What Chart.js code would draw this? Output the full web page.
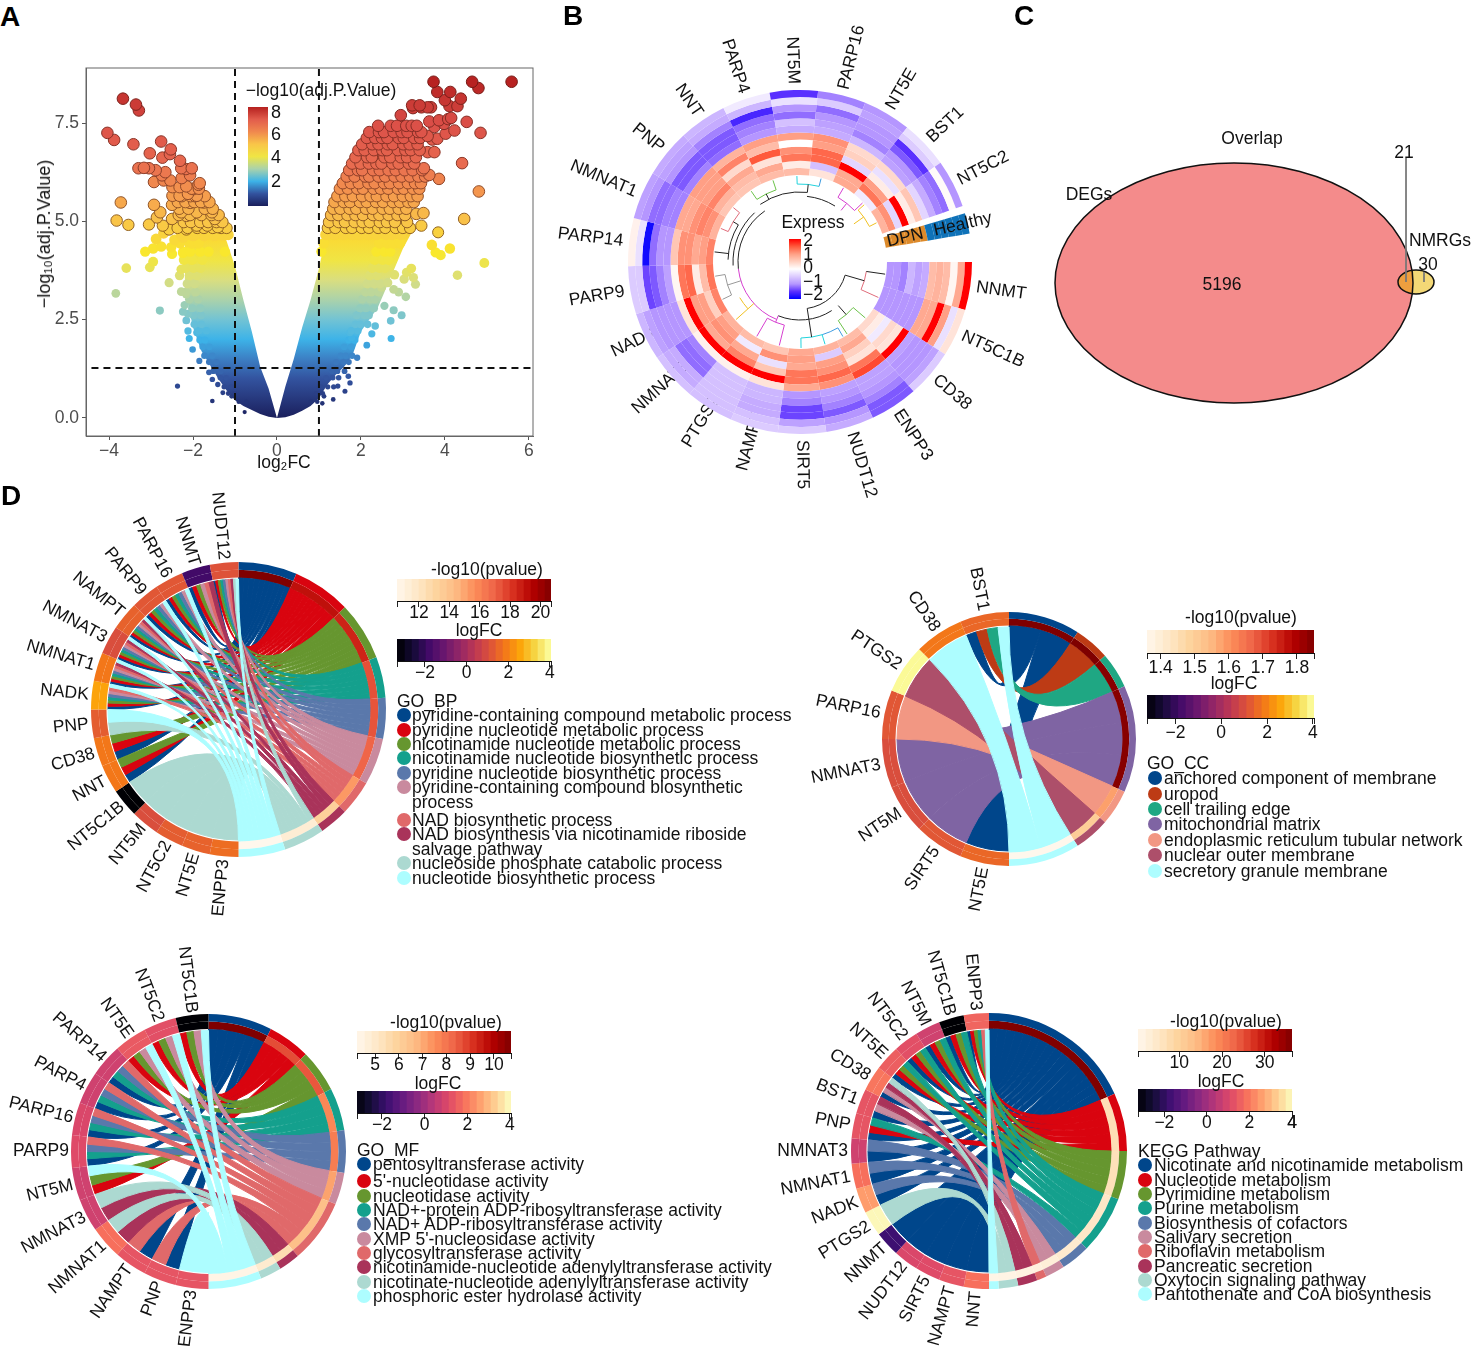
<!DOCTYPE html>
<html>
<head>
<meta charset="utf-8">
<title>Nicotinamide metabolism figure</title>
<script src="https://cdn.jsdelivr.net/npm/chart.js@4/dist/chart.umd.min.js"></script>
<style>
  html, body { margin: 0; background: #fff; }
  body { position: relative; width: 1476px; height: 1354px; overflow: hidden; font-family: "Liberation Sans", Arial, sans-serif; color: #111; }
  canvas { position: absolute; }
  .t { position: absolute; white-space: nowrap; line-height: 1; font-size: 17.5px; transform: translate(-50%, -44%); z-index: 5; }
  .l { transform: translate(0, -44%); }
  .letter { font-weight: bold; font-size: 28px; color: #000; }
  .dot { position: absolute; width: 14px; height: 14px; border-radius: 50%; transform: translate(-50%, -50%); z-index: 4; }
  .bar { position: absolute; z-index: 4; }
</style>
</head>
<body>
<script>
const FONT = '"Liberation Sans", Arial, sans-serif';

// ---- panel A: [log2FC, -log10 p]
const volcanoRight = [[3.73,8.55],[3.82,8.29],[4.65,8.55],[4.8,8.39],[5.59,8.55],[4.13,8.29],[4.38,8.12],[4,8.08],[4.11,7.93],[4.3,7.93],[3.22,7.95],[3.24,7.88],[3.4,7.95],[3.44,7.9],[3.67,7.9],[3.59,7.9],[2.95,7.7],[3.63,7.54],[3.86,7.57],[4.15,7.63],[4.08,7.6],[3.98,7.48],[3.75,7.4],[4.52,7.53],[4.23,7.31],[4.02,7.23],[4.85,7.25],[3.59,7.17],[3.82,7.1],[3.7,7.08],[3.59,6.76],[3.75,6.76],[4.41,6.48],[3.5,6.35],[3.63,6.18],[3.86,6.08],[4.81,5.76],[4.46,5.06],[3.44,4.89],[3.49,5.21],[3.32,5.19],[3.84,4.72],[3.69,4.4],[3.78,4.21],[3.9,4.14],[4.12,4.31],[4.94,3.94],[4.3,3.63],[3.2,3.8],[3.09,3.7],[3.03,3.53],[3.25,3.57],[3.3,3.4],[2.8,3.64],[2.64,3.44],[2.49,3.32],[2.78,3.27],[2.9,3.2],[3.07,3.08],[2.56,2.85],[2.78,2.74],[2.97,2.61],[2.71,2.47],[2.34,2.34],[2.26,2.14],[2.72,2.02],[2.14,1.85],[1.91,1.53],[1.78,2.04],[1.84,1.98],[1.74,2.17],[1.7,1.06],[1.74,0.89],[1.62,0.68],[1.45,0.81],[1.34,0.47],[1.12,0.55],[1.08,0.37]];
const volcanoLeft = [[-3.67,8.12],[-3.36,7.97],[-3.29,7.82],[-4.04,7.25],[-3.88,7.07],[-3.42,6.96],[-2.76,7.03],[-3.03,6.73],[-2.53,6.83],[-2.55,6.71],[-2.73,6.62],[-2.31,6.54],[-3.3,6.35],[-3.17,6.36],[-3.05,6.35],[-2.89,6.3],[-2.28,6.35],[-2.17,6.33],[-2.03,6.35],[-2.66,6.25],[-2.74,6.17],[-2.27,6.1],[-2.07,6.17],[-2.93,6],[-2.7,6.04],[-2.54,6.04],[-1.87,5.93],[-2.49,5.87],[-2.32,5.87],[-2.16,5.89],[-1.99,5.82],[-3.72,5.48],[-2.93,5.42],[-2.49,5.65],[-2.32,5.65],[-2.12,5.7],[-1.91,5.65],[-1.74,5.48],[-2.5,5.42],[-2.28,5.23],[-2.07,5.47],[-2.78,5.23],[-1.55,5.23],[-2.86,5.1],[-2.5,5.06],[-2.16,5.14],[-1.91,5.23],[-1.48,5.06],[-3.82,5.02],[-3.54,4.91],[-3.05,4.92],[-2.72,4.89],[-2.57,4.79],[-2.7,4.7],[-2.16,4.79],[-1.91,4.89],[-1.66,4.89],[-1.41,4.85],[-2.88,4.55],[-2.44,4.53],[-2.24,4.59],[-1.99,4.63],[-1.74,4.63],[-1.49,4.63],[-1.29,4.63],[-2.76,4.36],[-2.95,4.31],[-2.52,4.34],[-3.14,4.23],[-2.5,4.17],[-2.24,4.2],[-2.95,3.97],[-3.03,3.83],[-3.59,3.81],[-2.28,3.78],[-3.84,3.17],[-2.57,3.44],[-2.28,3.21],[-2.16,3.15],[-2.2,2.87],[-2.24,2.7],[-2.79,2.73],[-2.12,2.65],[-2.16,2.48],[-2.12,2.21],[-1.91,2.17],[-2.09,2.02],[-2.01,1.74],[-1.85,1.45],[-1.62,1.16],[-1.54,0.98],[-1.41,0.85],[-2.37,0.81],[-1.54,0.43],[-1.29,0.64],[-1.08,0.55],[-0.77,0.15]];
// packed part of the two wings, band by band
const packedY = [7.43,7.27,7.12,6.96,6.81,6.63,6.47,6.3,6.14,5.97,5.83,5.64,5.49,5.32,5.16,4.98,4.83,4.66,4.44,4.23,4.02,3.81,3.62,3.41,3.2,3.02,2.79,2.61,2.38,2.22,1.98,1.81,1.58,1.42,1.19,1.02,0.79,0.62,0.41];
const packedX = [
  [2.41,2.71,2.86,3.08,3.21,3.33],
  [2.2,2.43,2.55,2.78,2.97,3.11,3.36,3.44],
  [2.14,2.34,2.5,2.63,2.9,3.02,3.27,3.41],
  [2.03,2.27,2.42,2.64,2.76,3.01,3.16,3.35],
  [1.94,2.09,2.31,2.51,2.62,2.88,3.06,3.19,3.4],
  [1.87,2.15,2.26,2.56,2.7,2.95,3.1,3.31],
  [1.79,1.99,2.19,2.37,2.49,2.75,2.9,3.14,3.27],
  [1.72,1.93,2.03,2.29,2.45,2.66,2.83,3.04,3.23,3.46],
  [1.66,1.85,2.1,2.2,2.42,2.58,2.8,2.97,3.17,3.37,3.53],
  [1.57,1.76,1.95,2.18,2.33,2.55,2.69,2.91,3.12,3.29,3.43,-1.84],
  [1.5,1.69,1.91,2.05,2.3,2.47,2.65,2.88,3.02,3.24,3.39,-2.03,-1.86],
  [1.44,1.63,1.81,2.03,2.23,2.38,2.61,2.79,3,3.19,3.35,-2.27,-2.06,-1.95,-1.72],
  [1.37,1.59,1.74,1.98,2.14,2.36,2.53,2.76,2.93,3.13,3.26,-2.36,-2.18,-1.97,-1.81,-1.61],
  [1.34,1.51,1.73,1.89,2.12,2.28,2.52,2.69,2.9,3.08,-2.33,-2.11,-1.72,-1.53],
  [1.29,1.46,1.68,1.87,2.05,2.29,2.44,2.66,2.87,3.05,-2.34,-2.07,-1.8,-1.56,-1.39],
  [1.24,1.47,1.62,1.85,2.04,2.21,2.45,2.62,2.81,3.1,-2.22,-2.05,-1.83,-1.64,-1.44,-1.3],
  [1.21,1.39,1.64,1.79,2.02,2.19,2.41,2.58,2.83,3,3.17,-2.37,-2.13,-1.9,-1.74,-1.53,-1.33,-1.2],
  [1.16,1.37,1.58,1.81,1.96,2.17,2.38,2.6,2.75,2.95,-2.28,-2.07,-1.94,-1.7,-1.5,-1.26,-1.16],
  [1.11,2.44,2.63,2.77,2.93,-2.31,-2.03,-1.87],
  [1.06,2.37,2.57,2.7,-2.23,-2.07,-1.83,-1.63,-1.24],
  [2.33,2.52,2.66,-2.22,-2.02,-1.78],
  [2.27,2.44,2.57,-2.18,-1.99,-1.82],
  [2.21,2.39,-2.32,-2.08,-1.91],
  [2.15,2.32,2.46,-2.14,-1.96],
  [2.11,2.25,2.42,-2.17,-1.94],
  [2.03,2.22,2.33,-2.09,-1.88],
  [1.98,2.12,2.31,-2.02,-1.83],
  [1.9,2.09,2.19,-1.99,-1.81],
  [1.87,1.98,2.16,-1.97,-1.8],
  [1.77,1.93,-1.86,-1.68],
  [1.71,1.86,-1.84,-1.72],
  [1.6,1.77,-1.77,-1.61],
  [1.52,1.64,1.79,-1.73,-1.54],
  [1.41,1.59,1.71,-1.62,-1.44],
  [1.31,1.44,1.61,-1.52,-1.34],
  [1.17,1.33,1.47,-1.35,-1.21],
  [1.04,1.21,1.35,-1.26,-1.09],
  [0.94,1.09,-1.16,-1.01],
  [0.81,0.96,-0.91,-0.73]
];
// edges of the solid core of the cloud
const coreRightX = [0,0.2,0.4,0.6,0.8,1,1.2,1.4,1.6,1.8,2,2.2,2.4,2.6,2.8,3,3.2];
const coreRightTop = [0,0.8,1.5,2.3,3,3.8,4.8,5.5,5.85,6.1,6.55,7,7.3,7.45,7.55,7.6,7.4];
const coreRightBottom = [0,0.02,0.08,0.18,0.3,0.5,0.85,1.1,1.3,1.6,2.2,2.5,2.8,3.3,3.8,4.3,4.7];
const coreLeftX = [-2.2,-2,-1.8,-1.6,-1.4,-1.2,-1,-0.8,-0.6,-0.4,-0.2,0];
const coreLeftTop = [5.7,5.9,5.6,5.3,5,4.5,3.85,3,2.2,1.3,0.75,0];
const coreLeftBottom = [3.3,2.3,1.7,1.35,1,0.7,0.45,0.3,0.2,0.1,0.03,0];
const volcanoXTicks = [-4,-2,0,2,4,6];
const volcanoYTicks = [0,2.5,5,7.5];
const cutX = [-1,1];
const cutY = 1.27;

// ---- panel B, rows run from the outer ring to the inner ring
const heatGenes = ['NNMT','NT5C1B','CD38','ENPP3','NUDT12','SIRT5','NAMPT','PTGS2','NMNAT3','NADK','PARP9','PARP14','NMNAT1','PNP','NNT','PARP4','NT5M','PARP16','NT5E','BST1','NT5C2'];
const heatValues = [
  [2,0.9,0.1,0.7,0.8,0.7,-0.8,-0.9,-0.7,-1.1,-1,-1],
  [0.3,-0.3,1,2,0.9,0.9,-1,-1,-1,-1,-1,-1],
  [-0.5,-0.9,-1,-1,-1,-0.9,2,0.3,0.4,-0.2,0.2,0.4],
  [-1.3,-1.3,-1.1,-1,-0.9,-0.9,1.6,1.3,0.3,0.5,0.9,0.7],
  [-0.8,-1,-1.3,-1.1,-1,-0.9,1.1,1.4,1.1,1,-0.5,0.8],
  [-0.5,-0.9,-1.4,-1.4,-1.1,-1,0.9,1.3,1.3,0.9,1,0.9],
  [-0.5,-0.6,-0.8,-0.8,-0.7,-0.7,0.3,2,0.6,-0.3,1.1,0.6],
  [-0.6,-0.6,-0.6,-0.6,-0.6,-0.6,0.15,2,1.2,0.9,-0.2,0.7],
  [-0.6,-0.8,-0.8,-1.2,-1.2,-1.1,0.15,2,0.9,1.1,1,0.8],
  [-0.7,-0.9,-1,-1,-1,-1,0.3,2,1,1,0.5,1.2],
  [-0.5,-0.5,-1.4,-1.3,-1.1,-0.9,0.1,1.3,1.4,0.2,0.7,1.3],
  [0.15,-0.3,-1.9,-1.2,-1,-1,0.6,1.1,1.1,0.9,1,1.2],
  [-0.9,-1,-1.2,-1.2,-1.1,-1.1,0.9,0.9,1.1,1.2,1.1,0.8],
  [-0.8,-0.9,-1,-1.3,-1.3,-1.1,1,1,1,1.2,0.8,0.6],
  [-0.7,-0.8,-1.1,-1.3,-1.3,-1.2,0.8,1.2,0.4,0.9,0.7,0.6],
  [-0.2,-0.7,-1.6,-1.2,-1.1,-1,1,0.7,1.5,0.3,0.9,0.7],
  [-1.5,-0.3,-1,-1.2,-0.6,-0.8,1,0,1.1,1.3,0.2,0.7],
  [-1.1,-0.5,-1.2,-1,-0.9,-0.8,1.1,1,1.4,1.4,-0.6,0.3],
  [-1,-0.9,-1,-1,-1.1,-0.7,0.4,0.5,-0.4,2,0.9,0.9],
  [-0.3,-0.5,-1.5,-1.3,-1,-0.9,0.4,-0.3,0.2,1,1.3,-0.2],
  [-1,0.05,-1.2,-1.1,-0.8,-0.4,0.6,0.2,2,-0.4,1.1,0.8]
];
// how far each label reaches in towards the ring; four of them run under it
const heatLabelInset = {NADK:160, NMNAT3:152, PTGS2:159, NAMPT:155};
const dendroArcs = [
  [0.5,1.5,67,'#e06c7a'],[2.5,3.5,70,'#6cc24a'],[3.7,4.5,76,'#3d9be0'],[4.5,5.5,76,'#22d3dc'],
  [1,5,47,'#222'],[3.5,6.9,58,'#222'],[6.4,7.4,65,'#d63fd0'],[6.9,10.7,62,'#d63fd0'],
  [8.5,9.2,70,'#f0c020'],[9.5,10.5,76,'#999'],[10.7,14.5,62,'#222'],[10.9,14,67,'#222'],[11.2,13,72,'#222'],
  [12.5,13.5,78,'#e06c7a'],[14.5,15.5,76,'#6cc24a'],[14.5,17,70,'#222'],[16.5,17.5,78,'#22d3dc'],
  [17,18.6,66,'#222'],[18.5,19.5,75,'#d63fd0'],[19.6,20.5,78,'#f0c020']
];
const dendroStems = [
  [0.5,67,86,'#222'],[1.5,67,86,'#e06c7a'],[1,47,67,'#222'],[2.5,70,86,'#6cc24a'],[3.5,70,86,'#6cc24a'],[3,58,70,'#222'],
  [3.7,76,86,'#3d9be0'],[4.5,76,86,'#22d3dc'],[5.5,76,86,'#22d3dc'],[5,47,58,'#222'],[5,58,76,'#222'],
  [6.4,65,86,'#d63fd0'],[7.4,65,86,'#d63fd0'],[6.9,58,65,'#d63fd0'],[8.5,62,86,'#f0c020'],
  [9.5,76,86,'#999'],[10.5,76,86,'#999'],[10,62,76,'#999'],[11.5,72,86,'#222'],[12.5,78,86,'#e06c7a'],[13.5,78,86,'#e06c7a'],
  [13,72,78,'#222'],[14.5,76,86,'#6cc24a'],[15.5,76,86,'#6cc24a'],[15,70,76,'#222'],[16.5,78,86,'#22d3dc'],[17.5,78,86,'#3d9be0'],
  [17,70,78,'#222'],[18.5,75,86,'#d63fd0'],[19.5,75,86,'#d63fd0'],[19,66,75,'#d63fd0'],[19.6,78,86,'#f0c020'],[20.5,78,86,'#f0c020'],[20,66,78,'#f0c020']
];

// ---- panel C
const vennCx = [194,376], vennCy = [163,162], vennRx = [179,18], vennRy = [120,12];

// ---- panel D: genes run clockwise from the bottom, terms from the top
const termPalette = ['#00468b','#d9040f','#66962f','#14a08d','#5a78ab','#c98a9e','#e0696a','#a9335a','#acd9d1','#adfdff'];

const bpGenes = ['ENPP3','NT5E','NT5C2','NT5M','NT5C1B','NNT','CD38','PNP','NADK','NMNAT1','NMNAT3','NAMPT','PARP9','PARP16','NNMT','NUDT12'];
const bpLogFC = [1.6,1.4,1.3,1,-3.3,1.8,1.8,1.3,2.5,1.8,1,1.4,1.2,1.2,-1.84,1.1];
const bpTerms = ['pyridine-containing compound metabolic process','pyridine nucleotide metabolic process','nicotinamide nucleotide metabolic process','nicotinamide nucleotide biosynthetic process','pyridine nucleotide biosynthetic process','pyridine-containing compound biosynthetic\nprocess','NAD biosynthetic process','NAD biosynthesis via nicotinamide riboside\nsalvage pathway','nucleoside phosphate catabolic process','nucleotide biosynthetic process'];
const bpPvalue = [20.7,19,18.5,17.4,17.3,16.9,15.3,13.3,11.4,10.55];
const bpAll = 'NNT CD38 NADK NMNAT1 NMNAT3 NAMPT PARP9 PARP16 NNMT NUDT12';
const bpMembers = [bpAll, bpAll, bpAll,
  'NADK NMNAT1 NMNAT3 NAMPT PARP9 PARP16 NUDT12',
  'NADK NMNAT1 NMNAT3 NAMPT PARP9 PARP16 NUDT12',
  'NADK NMNAT1 NMNAT3 NAMPT PARP9 PARP16 NNMT NUDT12',
  'NADK NMNAT1 NMNAT3 NAMPT NNMT NUDT12',
  'NMNAT1 NMNAT3 NAMPT NNMT NUDT12',
  'ENPP3 NT5E NT5C2 NT5M NT5C1B PNP NUDT12',
  'PNP NADK NMNAT1 NMNAT3 NAMPT PARP9 PARP16 NUDT12'];

const ccGenes = ['NT5E','SIRT5','NT5M','NMNAT3','PARP16','PTGS2','CD38','BST1'];
const ccLogFC = [1.5,1.2,1,1,1.2,3.9,1.8,1.5];
const ccTerms = ['anchored component of membrane','uropod','cell trailing edge','mitochondrial matrix','endoplasmic reticulum tubular network','nuclear outer membrane','secretory granule membrane'];
const ccColors = ['#00468b','#bd3b15','#1fa783','#7f64a3','#f29783','#ad4f6a','#adfdff'];
const ccPvalue = [1.85,1.85,1.84,1.84,1.58,1.5,1.36];
const ccMembers = ['NT5E BST1','BST1','BST1','SIRT5 NT5M NMNAT3','PARP16','PTGS2','CD38 BST1'];

const mfGenes = ['ENPP3','PNP','NAMPT','NMNAT1','NMNAT3','NT5M','PARP9','PARP16','PARP4','PARP14','NT5E','NT5C2','NT5C1B'];
const mfLogFC = [1.3,1.3,1.3,1.8,0.8,0.8,1.1,1,0.8,0.8,1.4,1.2,-3.3];
const mfTerms = ['pentosyltransferase activity',"5'-nucleotidase activity",'nucleotidase activity','NAD+-protein ADP-ribosyltransferase activity','NAD+ ADP-ribosyltransferase activity',"XMP 5'-nucleosidase activity",'glycosyltransferase activity','nicotinamide-nucleotide adenylyltransferase activity','nicotinate-nucleotide adenylyltransferase activity','phosphoric ester hydrolase activity'];
const mfPvalue = [10.72,8.65,8.5,7.6,7.8,7.1,6.5,5.5,4.9,4.4];
const mfMembers = ['PNP NAMPT PARP9 PARP16 PARP4 PARP14','NT5M NT5E NT5C2 NT5C1B','NT5M NT5E NT5C2 NT5C1B','PARP9 PARP16 PARP4 PARP14','PARP9 PARP16 PARP4 PARP14','NT5E NT5C2 NT5C1B','PNP NAMPT PARP9 PARP16 PARP4 PARP14','NMNAT1 NMNAT3','NMNAT1 NMNAT3','ENPP3 NT5M NT5E NT5C2 NT5C1B'];

const keggGenes = ['NNT','NAMPT','SIRT5','NUDT12','NNMT','PTGS2','NADK','NMNAT1','NMNAT3','PNP','BST1','CD38','NT5E','NT5C2','NT5M','NT5C1B','ENPP3'];
const keggLogFC = [1.8,1.3,1.1,1,-1.8,3.9,2.5,1.8,0.8,1.3,1.3,1.9,1.5,1.2,0.8,-3.3,1.6];
const keggTerms = ['Nicotinate and nicotinamide metabolism','Nucleotide metabolism','Pyrimidine metabolism','Purine metabolism','Biosynthesis of cofactors','Salivary secretion','Riboflavin metabolism','Pancreatic secretion','Oxytocin signaling pathway','Pantothenate and CoA biosynthesis'];
const keggPvalue = [36.3,6.8,6.5,5,4,2.9,2.2,1.8,1.4,1.1];
const keggMembers = ['NNT NAMPT SIRT5 NUDT12 NNMT NADK NMNAT1 NMNAT3 PNP BST1 CD38 NT5E NT5C2 NT5M NT5C1B ENPP3','PNP NT5E NT5C2 NT5M NT5C1B ENPP3','NT5E NT5C2 NT5M NT5C1B ENPP3','PNP NT5E NT5C2 NT5M NT5C1B ENPP3','NADK NMNAT1 NMNAT3','BST1 CD38','ENPP3','BST1 CD38','PTGS2 CD38','ENPP3'];

// ---- colour helpers
const hex = c => [1, 3, 5].map(i => parseInt(c.substr(i, 2), 16));
const toHex = a => '#' + a.map(v => Math.round(Math.max(0, Math.min(255, v))).toString(16).padStart(2, '0')).join('');
const mix = (a, b, t) => { const x = hex(a), y = hex(b); return toHex(x.map((v, i) => v + (y[i] - v) * t)); };
function ramp(stops, t) {
  t = Math.max(0, Math.min(1, t));
  const p = t * (stops.length - 1), i = Math.min(Math.floor(p), stops.length - 2);
  return mix(stops[i], stops[i + 1], p - i);
}
const inferno = ['#000004','#160b39','#420a68','#6a176e','#932667','#bc3754','#dd513a','#f37819','#fca50a','#f6d746','#fcffa4'];
const magma = ['#000004','#140e36','#3b0f70','#641a80','#8c2981','#b73779','#de4968','#f7705c','#fe9f6d','#fecf92','#fcfdbf'];
const orRd = ['#fff7ec','#fee8c8','#fdd49e','#fdbb84','#fc8d59','#ef6548','#d7301f','#b30000','#7f0000'];
const heatStops = ['#0000ff','#5a30ff','#b596ff','#dccbff','#ffffff','#ffd0c0','#ff9f85','#ff5a3c','#ff0000'];
const heatColor = v => ramp(heatStops, (v + 2) / 4);
const volcanoStops = [[0,'#1a1f5c'],[1,'#33539f'],[1.5,'#3c7fc4'],[2,'#3db3e8'],[2.5,'#72c3d4'],[3,'#aad2ab'],[3.5,'#d9de80'],[4.2,'#f9e82c'],[5,'#f9c548'],[5.7,'#f59a4e'],[6.5,'#e8694f'],[7.5,'#db4f48'],[8.6,'#b5201f']];
function volcanoColor(y) {
  for (let i = 1; i < volcanoStops.length; i++) {
    if (y <= volcanoStops[i][0]) {
      const [a, ca] = volcanoStops[i - 1], [b, cb] = volcanoStops[i];
      return mix(ca, cb, (y - a) / (b - a));
    }
  }
  return volcanoStops[volcanoStops.length - 1][1];
}

// ---- page helpers
function text(str, x, y, extra = '', cls = 't') {
  const d = document.createElement('div');
  d.className = cls;
  d.textContent = str;
  d.style.cssText = `left:${x}px;top:${y}px;${extra}`;
  document.body.appendChild(d);
  return d;
}
function box(cls, x, y, w, h, bg) {
  const d = document.createElement('div');
  d.className = cls;
  d.style.cssText = `left:${x}px;top:${y}px;width:${w}px;height:${h}px;background:${bg}`;
  document.body.appendChild(d);
}
function place(x, y, w, h) {
  const c = document.createElement('canvas');
  c.width = w; c.height = h;
  c.style.cssText = `left:${x}px;top:${y}px;width:${w}px;height:${h}px`;
  document.body.appendChild(c);
  return c;
}
const base = { responsive: false, animation: false, events: [], plugins: { legend: { display: false }, tooltip: { enabled: false } } };

text('A', 10, 15, '', 't letter');
text('B', 573, 14, '', 't letter');
text('C', 1024, 14, '', 't letter');
text('D', 11, 494, '', 't letter');

// ---- A: volcano
const volcanoPoints = volcanoRight.concat(volcanoLeft);
packedY.forEach((y, i) => packedX[i].forEach(x => volcanoPoints.push([x, y])));
volcanoPoints.sort((a, b) => a[1] - b[1]);

function coreFill(ctx) {
  const { chart } = ctx, s = chart.scales.y;
  if (!s || !chart.chartArea) return '#888';
  const g = chart.ctx.createLinearGradient(0, s.getPixelForValue(0), 0, s.getPixelForValue(8));
  for (let v = 0; v <= 8; v += 0.5) {
    const dark = v > 4.5 ? Math.min(0.28, (v - 4.5) * 0.14) : 0;
    g.addColorStop(v / 8, mix(volcanoColor(v), '#5a2a10', dark));
  }
  return g;
}
const xy = (xs, ys) => xs.map((x, i) => ({ x, y: ys[i] }));
const guide = { borderColor: '#111', borderWidth: 2, borderDash: [7, 5], pointRadius: 0, fill: false };
new Chart(place(0, 40, 560, 440), {
  type: 'line',
  data: { datasets: [
    { ...guide, data: [{ x: cutX[0], y: -0.46 }, { x: cutX[0], y: 8.9 }] },
    { ...guide, data: [{ x: cutX[1], y: -0.46 }, { x: cutX[1], y: 8.9 }] },
    { ...guide, data: [{ x: -4.42, y: cutY }, { x: 6.1, y: cutY }] },
    { data: volcanoPoints.map(p => ({ x: p[0], y: p[1] })), showLine: false,
      pointRadius: c => c.raw ? Math.min(5.8, 2 + c.raw.y * 0.75) : 3,
      pointBackgroundColor: c => c.raw ? volcanoColor(c.raw.y) : '#888',
      pointBorderColor: c => c.raw ? mix(volcanoColor(c.raw.y), '#401008', 0.55) : '#888',
      pointBorderWidth: c => c.raw && c.raw.y > 4.7 ? 1 : 0 },
    { data: xy(coreRightX, coreRightTop), borderWidth: 0, pointRadius: 0, backgroundColor: coreFill, fill: { target: 5 } },
    { data: xy(coreRightX, coreRightBottom), borderWidth: 0, pointRadius: 0, fill: false },
    { data: xy(coreLeftX, coreLeftTop), borderWidth: 0, pointRadius: 0, backgroundColor: coreFill, fill: { target: 7 } },
    { data: xy(coreLeftX, coreLeftBottom), borderWidth: 0, pointRadius: 0, fill: false }
  ] },
  options: { ...base,
    layout: { padding: { top: 28, right: 27 } },
    scales: {
      x: { type: 'linear', min: -4.55, max: 6.1,
        afterBuildTicks: s => { s.ticks = volcanoXTicks.map(value => ({ value })); },
        afterFit: s => { s.height = 44; s.paddingLeft = 0; s.paddingRight = 0; },
        ticks: { font: { size: 17.5, family: FONT }, color: '#4d4d4d', padding: 1, maxRotation: 0, callback: v => String(v).replace('-', '\u2212') },
        grid: { drawOnChartArea: false, tickLength: 4, color: '#555' }, border: { color: '#666' } },
      y: { type: 'linear', min: -0.46, max: 8.9,
        afterBuildTicks: s => { s.ticks = volcanoYTicks.map(value => ({ value })); },
        afterFit: s => { s.width = 86; },
        ticks: { font: { size: 17.5, family: FONT }, color: '#4d4d4d', padding: 3, callback: v => v.toFixed(1) },
        grid: { drawOnChartArea: false, tickLength: 4, color: '#555' }, border: { color: '#666' } }
    } },
  plugins: [{ id: 'frame', afterDraw(chart) {
    const { left, top, width, height } = chart.chartArea, c = chart.ctx;
    c.strokeStyle = '#666'; c.lineWidth = 1; c.strokeRect(left, top, width, height);
  } }]
});
text('log\u2082FC', 284, 462);
text('\u2212log\u2081\u2080(adj.P.Value)', 44, 234, 'transform:translate(-50%,-50%) rotate(-90deg);font-size:18px');
text('\u2212log10(adj.P.Value)', 321, 90);
box('bar', 248, 107, 20, 99, `linear-gradient(to top,${[0,1,2,3,4,5,6,7,8.6].map(volcanoColor).join(',')})`);
[[8, 111], [6, 133], [4, 156], [2, 180]].forEach(([v, y]) => text(v, 276, y, 'font-size:18px'));

// ---- B: circular heatmap
const geneSpan = 341 / heatGenes.length;
const ringSlices = heatGenes.map(() => geneSpan).concat([2.5, 7, 9.5]);
const heatRings = heatValues[0].map((_, r) => ({
  data: ringSlices,
  backgroundColor: heatValues.map(g => heatColor(g[r])).concat(['rgba(0,0,0,0)', r < 6 ? '#0f72b8' : '#dd8a2a', 'rgba(0,0,0,0)']),
  borderWidth: 0
}));
new Chart(place(538, 0, 524, 524), {
  type: 'doughnut',
  data: { labels: ringSlices.map((_, i) => heatGenes[i] || ''), datasets: heatRings },
  options: { ...base, rotation: 90, circumference: 360, cutout: 87, layout: { padding: 90 } },
  plugins: [{
    id: 'ringText',
    beforeDatasetsDraw(chart) {
      const c = chart.ctx, arcs = chart.getDatasetMeta(0).data;
      c.save();
      c.font = `17.5px ${FONT}`; c.fillStyle = '#111'; c.textBaseline = 'middle';
      heatGenes.forEach((g, i) => {
        const a = (arcs[i].startAngle + arcs[i].endAngle) / 2, r = heatLabelInset[g] || 178;
        c.save();
        c.translate(arcs[i].x, arcs[i].y);
        if (Math.cos(a) < 0) { c.rotate(a + Math.PI); c.textAlign = 'right'; c.fillText(g, -r, 0); }
        else { c.rotate(a); c.textAlign = 'left'; c.fillText(g, r, 0); }
        c.restore();
      });
      c.restore();
    },
    afterDatasetsDraw(chart) {
      const c = chart.ctx, arcs = chart.getDatasetMeta(0).data;
      const cx = arcs[0].x, cy = arcs[0].y, unit = arcs[0].endAngle - arcs[0].startAngle, a0 = arcs[0].startAngle;
      const ang = i => a0 + i * unit;
      c.save();
      c.lineWidth = 1;
      dendroArcs.forEach(([a, b, r, col]) => {
        c.strokeStyle = col; c.beginPath(); c.arc(cx, cy, r, ang(a), ang(b)); c.stroke();
      });
      dendroStems.forEach(([a, r0, r1, col]) => {
        const t = ang(a);
        c.strokeStyle = col; c.beginPath();
        c.moveTo(cx + r0 * Math.cos(t), cy + r0 * Math.sin(t));
        c.lineTo(cx + r1 * Math.cos(t), cy + r1 * Math.sin(t));
        c.stroke();
      });
      // group strip names sit over the strip
      const strip = arcs[heatGenes.length + 1], t = (strip.startAngle + strip.endAngle) / 2;
      c.font = `17.5px ${FONT}`; c.fillStyle = '#111'; c.textAlign = 'center'; c.textBaseline = 'middle';
      c.translate(cx, cy); c.rotate(t);
      c.fillText('DPN', 108, 0);
      c.fillText('Healthy', 167, 0);
      c.restore();
    }
  }]
});
text('Express', 813, 222);
box('bar', 789, 239, 12, 60, `linear-gradient(to top,${heatStops.join(',')})`);
['2', '1', '0', '\u22121', '\u22122'].forEach((v, i) => text(v, v.length > 1 ? 813 : 808, [240, 254, 267, 281, 294][i]));

// ---- C: venn
new Chart(place(1040, 120, 436, 300), {
  type: 'line',
  data: { datasets: [
    { data: [{ x: 366, y: 38 }, { x: 366, y: 162 }], borderColor: '#777', borderWidth: 1, pointRadius: 0 },
    { data: [{ x: 384, y: 152 }, { x: 384, y: 162 }], borderColor: '#777', borderWidth: 1, pointRadius: 0 }
  ] },
  options: { ...base, scales: {
    x: { type: 'linear', display: false, min: 0, max: 436 },
    y: { type: 'linear', display: false, min: 0, max: 300, reverse: true } } },
  plugins: [{ id: 'venn', beforeDatasetsDraw(chart) {
    const c = chart.ctx, sx = chart.scales.x, sy = chart.scales.y;
    const path = i => {
      c.beginPath();
      c.ellipse(sx.getPixelForValue(vennCx[i]), sy.getPixelForValue(vennCy[i]),
        sx.getPixelForValue(vennRx[i]) - sx.getPixelForValue(0), sy.getPixelForValue(vennRy[i]) - sy.getPixelForValue(0), 0, 0, Math.PI * 2);
    };
    c.save();
    c.lineWidth = 1.5; c.strokeStyle = '#111';
    path(0); c.fillStyle = '#f48b8b'; c.fill();
    path(1); c.fillStyle = '#f3d876'; c.fill();
    c.save(); path(0); c.clip(); path(1); c.fillStyle = '#ee9f3f'; c.fill(); c.restore();
    path(0); c.stroke();
    path(1); c.stroke();
    c.restore();
  } }]
});
text('Overlap', 1252, 138);
text('21', 1404, 152);
text('DEGs', 1089, 194);
text('NMRGs', 1440, 240);
text('30', 1428, 264);
text('5196', 1222, 284);

// ---- D: colour bars, native floating bars on a linear axis
function colorBar(x0, x1, top, h, min, max, ticks, colorAt, labelPad = -4, steps = 22) {
  const size = (max - min) / steps, sets = [];
  for (let i = 0; i < steps; i++) {
    sets.push({ data: [[min + i * size, min + (i + 1.05) * size]], backgroundColor: colorAt(min + (i + 0.5) * size), grouped: false, barPercentage: 1, categoryPercentage: 1, borderWidth: 0 });
  }
  new Chart(place(x0 - 14, top, x1 - x0 + 28, h + 26), {
    type: 'bar',
    data: { labels: [''], datasets: sets },
    options: { ...base, indexAxis: 'y',
      layout: { padding: { left: 14, right: 14 } },
      scales: {
        y: { display: false },
        x: { type: 'linear', min, max, position: 'bottom',
          afterBuildTicks: s => { s.ticks = [min].concat(ticks, [max]).map(value => ({ value })); },
          afterFit: s => { s.height = 26; s.paddingLeft = 0; s.paddingRight = 0; },
          ticks: { autoSkip: false, maxRotation: 0, padding: labelPad, color: '#111', font: { size: 17.5, family: FONT },
            callback: v => ticks.includes(v) ? String(v).replace('-', '\u2212') : '' },
          grid: { drawOnChartArea: false, tickLength: 6, color: '#222' }, border: { color: '#111' } } } }
  });
}

// ---- D: chord diagrams, outer rings from a doughnut, ribbons built on its arcs
function chordDiagram({ cx, cy, R, band, gap, genes, logFC, terms, colors, pvalue, members, pMin, pMax, fcStops }) {
  const links = members.map(m => m.split(' ').map(g => genes.indexOf(g)));
  const total = links.reduce((s, l) => s + l.length, 0);
  const sizes = links.map(l => l.length * 180 / total).concat(genes.map(() => 180 / genes.length));
  const fc = v => ramp(fcStops, (v + 3.3) / 7.3);
  const pv = v => ramp(orRd, (v - pMin) / (pMax - pMin));
  const geneColors = logFC.map(fc);
  const pad = 86;
  new Chart(place(cx - R - pad, cy - R - pad, 2 * (R + pad), 2 * (R + pad)), {
    type: 'doughnut',
    data: { labels: terms.concat(genes), datasets: [
      { data: sizes, backgroundColor: colors.concat(geneColors), borderWidth: 0 },
      { data: sizes, backgroundColor: pvalue.map(pv).concat(geneColors), borderWidth: 0 }
    ] },
    options: { ...base, cutout: R - band, layout: { padding: pad } },
    plugins: [{
      id: 'chord',
      beforeDatasetsDraw(chart) {
        const arcs = chart.getDatasetMeta(1).data, c = chart.ctx, nT = terms.length;
        const X = arcs[0].x, Y = arcs[0].y, rt = arcs[0].innerRadius, r = rt - 1.5;
        const used = genes.map(() => 0);
        const counts = genes.map((_, g) => links.reduce((s, l) => s + (l.includes(g) ? 1 : 0), 0));
        c.save();
        c.lineWidth = 1;
        links.forEach((list, t) => {
          const arc = arcs[t], w = (arc.endAngle - arc.startAngle) / list.length;
          const ordered = list.slice().sort((a, b) => b - a);
          const spans = {};
          ordered.forEach((g, k) => { spans[g] = arc.startAngle + k * w; });
          // gene sub-arcs are filled in term order, so T1 sits first clockwise
          list.forEach(g => {
            const ga = arcs[nT + g], gw = (ga.endAngle - ga.startAngle) / counts[g];
            const g0 = ga.startAngle + used[g] * gw, g1 = g0 + gw;
            used[g]++;
            const t0 = spans[g], t1 = t0 + w;
            c.beginPath();
            c.arc(X, Y, r, g0, g1);
            c.quadraticCurveTo(X, Y, X + rt * Math.cos(t0), Y + rt * Math.sin(t0));
            c.arc(X, Y, rt, t0, t1);
            c.quadraticCurveTo(X, Y, X + r * Math.cos(g0), Y + r * Math.sin(g0));
            c.closePath();
            c.fillStyle = colors[t];
            c.strokeStyle = colors[t];
            c.fill();
            c.stroke();
          });
        });
        c.font = `17.5px ${FONT}`; c.fillStyle = '#111'; c.textBaseline = 'middle'; c.textAlign = 'right';
        genes.forEach((g, i) => {
          const a = arcs[nT + i], m = (a.startAngle + a.endAngle) / 2;
          c.save();
          c.translate(X, Y); c.rotate(m + Math.PI);
          c.fillText(g, -(R + gap), 0);
          c.restore();
        });
        c.restore();
      }
    }]
  });
}
function termLegend(title, titleX, titleY, dotX, textX, terms, colors, ys) {
  text(title, titleX, titleY, '', 't l');
  terms.forEach((term, i) => {
    box('dot', dotX, ys[i], 14, 14, colors[i]);
    term.split('\n').forEach((line, k) => text(line, textX, ys[i] + k * 15, '', 't l'));
  });
}

chordDiagram({ cx: 238, cy: 709.5, R: 147.5, band: 15.5, gap: 3, genes: bpGenes, logFC: bpLogFC, terms: bpTerms, colors: termPalette, pvalue: bpPvalue, members: bpMembers, pMin: 10.55, pMax: 20.7, fcStops: inferno });
chordDiagram({ cx: 1008.5, cy: 739, R: 127, band: 13.5, gap: 4, genes: ccGenes, logFC: ccLogFC, terms: ccTerms, colors: ccColors, pvalue: ccPvalue, members: ccMembers, pMin: 1.36, pMax: 1.85, fcStops: inferno });
chordDiagram({ cx: 208.5, cy: 1151.5, R: 137.5, band: 15, gap: 2, genes: mfGenes, logFC: mfLogFC, terms: mfTerms, colors: termPalette, pvalue: mfPvalue, members: mfMembers, pMin: 4.24, pMax: 10.72, fcStops: magma });
chordDiagram({ cx: 989, cy: 1150.5, R: 138, band: 15.5, gap: 3, genes: keggGenes, logFC: keggLogFC, terms: keggTerms, colors: termPalette, pvalue: keggPvalue, members: keggMembers, pMin: 0.35, pMax: 36.35, fcStops: magma });

const pvColor = (lo, hi) => v => ramp(orRd, (v - lo) / (hi - lo));
const fcColor = stops => v => ramp(stops, (v + 3.3) / 7.3);
const fcTicks = [-2, 0, 2, 4];

colorBar(397, 551, 579, 22, 10.55, 20.7, [12, 14, 16, 18, 20], pvColor(10.55, 20.7));
colorBar(397, 551, 639, 22, -3.34, 4.05, fcTicks, fcColor(inferno));
text('-log10(pvalue)', 487, 569);
text('logFC', 479, 630);
termLegend('GO_BP', 397, 701, 404, 412, bpTerms, termPalette, [715, 730, 744, 758, 773, 787, 820, 834, 863, 878]);

colorBar(1147, 1314, 630, 23, 1.36, 1.85, [1.4, 1.5, 1.6, 1.7, 1.8], pvColor(1.36, 1.85), -1);
colorBar(1147, 1314, 695, 23, -3.24, 4.05, fcTicks, fcColor(inferno), -1);
text('-log10(pvalue)', 1241, 617);
text('logFC', 1234, 683);
termLegend('GO_CC', 1147, 763, 1155, 1164, ccTerms, ccColors, [778, 794, 809, 824, 840, 855, 871]);

colorBar(357, 511, 1031, 22, 4.24, 10.72, [5, 6, 7, 8, 9, 10], pvColor(4.24, 10.72));
colorBar(357, 511, 1091, 22, -3.17, 4.05, fcTicks, fcColor(magma));
text('-log10(pvalue)', 446, 1022);
text('logFC', 438, 1083);
termLegend('GO_MF', 357, 1150, 364, 373, mfTerms, termPalette, [1164, 1181, 1196, 1210, 1224, 1239, 1253, 1267, 1282, 1296]);

colorBar(1138, 1292, 1029, 22, 0.35, 36.35, [10, 20, 30], pvColor(0.35, 36.35));
colorBar(1138, 1292, 1089, 22, -3.24, 4, fcTicks, fcColor(magma));
text('-log10(pvalue)', 1226, 1021);
text('logFC', 1221, 1081);
termLegend('KEGG Pathway', 1138, 1151, 1145, 1154, keggTerms, termPalette, [1165, 1180, 1194, 1208, 1223, 1237, 1251, 1266, 1280, 1294]);
</script>
</body>
</html>
